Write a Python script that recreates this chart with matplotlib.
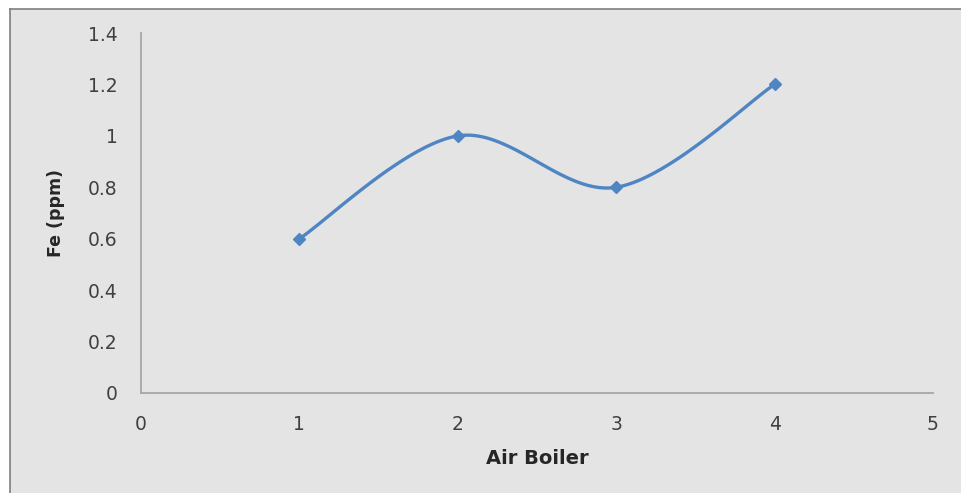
import numpy as np
import matplotlib.pyplot as plt
from matplotlib.patches import Rectangle
from matplotlib.lines import Line2D

boilers = [1, 2, 3, 4]
fe_ppm = [0.6, 1.0, 0.8, 1.2]

x_ticks = [0, 1, 2, 3, 4, 5]
y_ticks = [0, 0.2, 0.4, 0.6, 0.8, 1.0, 1.2, 1.4]
y_labels = ["0", "0.2", "0.4", "0.6", "0.8", "1", "1.2", "1.4"]

BG = "#e4e4e4"
BLUE = "#4f85c2"


def smooth(xs, ys, n=40):
    # Excel-style smoothed line: cubic Bezier with Catmull-Rom control points
    p = np.column_stack([xs, ys]).astype(float)
    p = np.vstack([p[0], p, p[-1]])
    out = []
    for i in range(1, len(p) - 2):
        p0, p1, p2, p3 = p[i - 1], p[i], p[i + 1], p[i + 2]
        c1 = p1 + (p2 - p0) / 6
        c2 = p2 - (p3 - p1) / 6
        t = np.linspace(0, 1, n)[:, None]
        seg = (1 - t) ** 3 * p1 + 3 * (1 - t) ** 2 * t * c1 + 3 * (1 - t) * t ** 2 * c2 + t ** 3 * p2
        out.append(seg if i == 1 else seg[1:])
    out = np.vstack(out)
    return out[:, 0], out[:, 1]


plt.rcParams["font.family"] = ["DejaVu Sans"]

fig = plt.figure(figsize=(9.62, 4.93), dpi=100, facecolor="white")
left, top = 9.5 / 962, 1 - 8.5 / 493
fig.patches.append(Rectangle((left, 0), 1 - left, top, transform=fig.transFigure,
                             facecolor=BG, edgecolor="none", zorder=-1))
fig.lines.append(Line2D([left, left], [0, top], transform=fig.transFigure,
                        color="#7f7f7f", linewidth=1.2))
fig.lines.append(Line2D([left, 1], [top, top], transform=fig.transFigure,
                        color="#7f7f7f", linewidth=1.2))

ax = fig.add_axes([141 / 962, 100 / 493, 792 / 962, 360 / 493])
ax.patch.set_alpha(0)

sx, sy = smooth(boilers, fe_ppm)
ax.plot(sx, sy, color=BLUE, linewidth=2.4, solid_capstyle="round")
ax.plot(boilers, fe_ppm, linestyle="none", marker="D", markersize=6.5,
        color=BLUE)

ax.set_xlim(0, 5)
ax.set_ylim(0, 1.4)
ax.set_xticks(x_ticks)
ax.set_yticks(y_ticks)
ax.set_yticklabels(y_labels)
ax.tick_params(length=0, labelsize=13.5, colors="#404040", pad=17)
ax.tick_params(axis="x", pad=16)

for side in ["top", "right"]:
    ax.spines[side].set_visible(False)
for side in ["left", "bottom"]:
    ax.spines[side].set_color("#a6a6a6")
    ax.spines[side].set_linewidth(1.3)

ax.set_xlabel("Air Boiler", fontsize=14, fontweight="bold", color="#262626", labelpad=11)
ax.set_ylabel("Fe (ppm)", fontsize=12.5, fontweight="bold", color="#262626", labelpad=16)

fig.savefig("out.png", dpi=100, facecolor="white")
